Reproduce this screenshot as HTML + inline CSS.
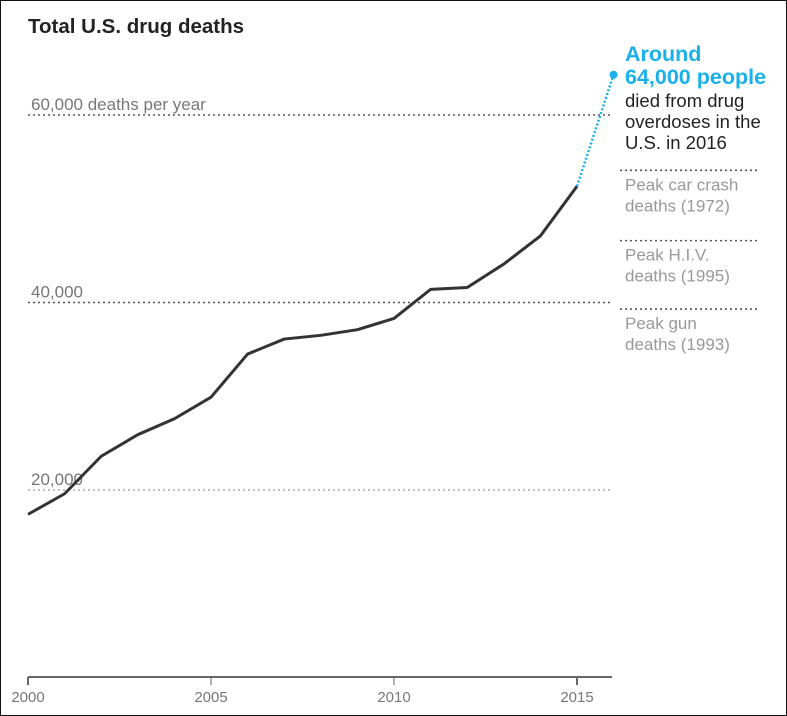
<!DOCTYPE html>
<html><head><meta charset="utf-8"><style>
html,body{margin:0;padding:0;background:#fff}
#c{position:relative;width:787px;height:716px;box-sizing:border-box;border:1px solid #111;overflow:hidden}
svg text{font-family:"Liberation Sans",sans-serif}
</style></head><body>
<div id="c">
<svg id="s" width="787" height="716" style="position:absolute;left:-1px;top:-1px">
<text x="28" y="33" font-size="20.5" font-weight="bold" fill="#222">Total U.S. drug deaths</text>
</svg>
</div>
<script>
const years=[2000,2001,2002,2003,2004,2005,2006,2007,2008,2009,2010,2011,2012,2013,2014,2015];
const deaths=[17400,19600,23600,25900,27600,29900,34500,36100,36500,37100,38300,41400,41600,44100,47100,52400];
const estYear=2016, estValue=64300;
const gridValues=[20000,40000,60000];
const gridLabels=["20,000","40,000","60,000 deaths per year"];
const xTicks=[2000,2005,2010,2015];
const peakValues=[54100,46600,39300];
const peakLabels=[["Peak car crash","deaths (1972)"],["Peak H.I.V.","deaths (1995)"],["Peak gun","deaths (1993)"]];
const NS="http://www.w3.org/2000/svg";
const svg=document.getElementById('s');
const X=y=>28+(y-2000)*36.6;
const Y=v=>677.5-v/20000*187.5;
function mk(t,a,p){const e=document.createElementNS(NS,t);for(const k in a)e.setAttribute(k,a[k]);(p||svg).appendChild(e);return e;}
gridValues.forEach((v,i)=>{
 const l=mk('line',{x1:28,x2:612,y1:Y(v),y2:Y(v),stroke:i==0?'#999':'#555','stroke-width':i==0?1.2:1.6,'stroke-dasharray':'2,3'});
 
 
 const t=mk('text',{x:31,y:Y(v)-5,'font-size':17,fill:'#777'});t.textContent=gridLabels[i];
 
 
});
peakValues.forEach((v,i)=>{
 const l=mk('line',{x1:620,x2:760,y1:Y(v),y2:Y(v),stroke:'#555','stroke-width':1.6,'stroke-dasharray':'2,3'});
 
 
 peakLabels[i].forEach((s,j)=>{const t=mk('text',{x:625,y:Y(v)+20+j*21,'font-size':17,fill:'#999'});t.textContent=s;
 
 });
});
const ax=mk('line',{x1:28,x2:612,y1:677,y2:677,stroke:'#666','stroke-width':2});


xTicks.forEach(y=>{
 const tk=mk('line',{x1:X(y),x2:X(y),y1:677,y2:685,stroke:'#666','stroke-width':y==2000||y==2015?2:1});
 
 
 const t=mk('text',{x:X(y),y:702,'font-size':15,fill:'#777','text-anchor':'middle'});t.textContent=y;
 
 
});
const d=years.map((y,i)=>(i?'L':'M')+X(y)+','+Y(deaths[i])).join('');
const p=mk('path',{d:d,fill:'none',stroke:'#333','stroke-width':3,'stroke-linejoin':'round'});


const last=years.length-1;
const e=mk('line',{x1:X(years[last]),y1:Y(deaths[last]),x2:X(estYear),y2:Y(estValue),stroke:'#1ab0ea','stroke-width':2.5,'stroke-dasharray':'2,2'});


const c=mk('circle',{cx:X(estYear),cy:Y(estValue),r:4,fill:'#1ab0ea'});


[["Around",21.5,'bold','#1ab0ea',61],["64,000 people",21.5,'bold','#1ab0ea',84],["died from drug",18.5,'normal','#222',107],["overdoses in the",18.5,'normal','#222',128],["U.S. in 2016",18.5,'normal','#222',149]].forEach(r=>{
 const t=mk('text',{x:625,y:r[4],'font-size':r[1],'font-weight':r[2],fill:r[3]});t.textContent=r[0];
 
 
});
</script>
</body></html>
